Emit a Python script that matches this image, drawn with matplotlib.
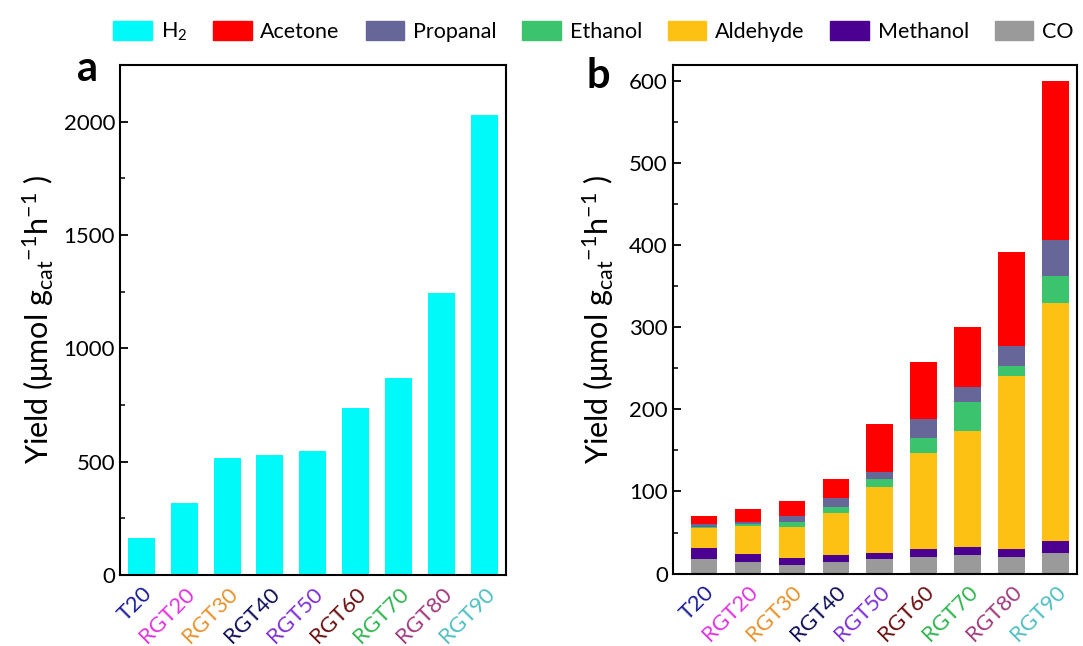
import numpy as np
import matplotlib.pyplot as plt
from matplotlib.patches import Patch
from matplotlib.ticker import MultipleLocator

plt.rcParams['font.family'] = ['Lato', 'DejaVu Sans']
plt.rcParams['mathtext.fontset'] = 'custom'
plt.rcParams['mathtext.rm'] = 'Lato'
plt.rcParams['mathtext.it'] = 'Lato'

samples = ['T20', 'RGT20', 'RGT30', 'RGT40', 'RGT50', 'RGT60', 'RGT70', 'RGT80', 'RGT90']
sample_colors = ['#1c1c99', '#e034de', '#e8922c', '#0e0e58', '#7f30d6',
                 '#6a1010', '#2fb54e', '#a03a7c', '#4fbfc2']

# H2 evolution (umol g_cat^-1 h^-1)
h2 = [165, 316, 515, 529, 547, 735, 870, 1243, 2029]

# liquid / CO products, stacked bottom to top
co = [17.7, 14.0, 10.0, 13.7, 17.3, 19.8, 22.2, 20.5, 25.4]
methanol = [13.1, 10.0, 9.3, 9.3, 8.1, 9.7, 10.5, 9.0, 13.9]
aldehyde = [24.2, 34.4, 37.7, 50.9, 79.8, 117.2, 141.3, 210.8, 290.7]
ethanol = [1.8, 2.0, 5.9, 7.7, 10.6, 18.3, 35.4, 13.1, 32.4]
propanal = [3.6, 2.5, 7.3, 10.6, 7.7, 23.0, 18.6, 23.6, 44.6]
acetone = [9.8, 16.1, 18.3, 23.6, 58.5, 70.0, 73.0, 115.5, 193.0]

c_h2 = '#00fafa'
c_acetone = '#ff0000'
c_propanal = '#666699'
c_ethanol = '#3cc36e'
c_aldehyde = '#fdc113'
c_methanol = '#4b0092'
c_co = '#9a9a9a'

fig = plt.figure(figsize=(10.83, 6.46), dpi=100)
ax1 = fig.add_axes([0.1108, 0.1099, 0.3561, 0.7895])
ax2 = fig.add_axes([0.6211, 0.1122, 0.3738, 0.7872])

x = np.arange(len(samples))

# panel a
ax1.bar(x, h2, width=0.63, color=c_h2)
ax1.set_xlim(-0.5, 8.5)
ax1.set_ylim(0, 2250)
ax1.yaxis.set_major_locator(MultipleLocator(500))
ax1.yaxis.set_minor_locator(MultipleLocator(250))

# panel b
stack = [(co, c_co), (methanol, c_methanol), (aldehyde, c_aldehyde),
         (ethanol, c_ethanol), (propanal, c_propanal), (acetone, c_acetone)]
bottom = np.zeros(len(samples))
for vals, col in stack:
    ax2.bar(x, vals, width=0.6, bottom=bottom, color=col)
    bottom += np.array(vals)
ax2.set_xlim(-0.71, 8.5)
ax2.set_ylim(0, 620)
ax2.yaxis.set_major_locator(MultipleLocator(100))
ax2.yaxis.set_minor_locator(MultipleLocator(50))

ylab = 'Yield (μmol g$_{\\mathregular{cat}}$$^{\\mathregular{-1}}$h$^{\\mathregular{-1}}$ )'
for ax in (ax1, ax2):
    for s in ax.spines.values():
        s.set_linewidth(1.5)
    ax.set_xticks(x)
    ax.set_xticklabels(samples, rotation=45, ha='right', rotation_mode='anchor', fontsize=16)
    for lbl, col in zip(ax.get_xticklabels(), sample_colors):
        lbl.set_color(col)
    ax.tick_params(axis='x', length=0, pad=6)
    ax.tick_params(axis='y', which='major', direction='in', length=6, width=1.3, labelsize=16)
    ax.tick_params(axis='y', which='minor', direction='in', length=3.5, width=1.1)
    ax.set_ylabel(ylab, fontsize=22)

ax1.yaxis.set_label_coords(-0.165, 0.5)
ax2.yaxis.set_label_coords(-0.14, 0.5)

fig.text(0.081, 0.893, 'a', fontsize=30, fontweight='bold', ha='center', va='center')
fig.text(0.552, 0.883, 'b', fontsize=30, fontweight='bold', ha='center', va='center')

handles = [Patch(color=c_h2, label='H$_2$'),
           Patch(color=c_acetone, label='Acetone'),
           Patch(color=c_propanal, label='Propanal'),
           Patch(color=c_ethanol, label='Ethanol'),
           Patch(color=c_aldehyde, label='Aldehyde'),
           Patch(color=c_methanol, label='Methanol'),
           Patch(color=c_co, label='CO')]
fig.legend(handles=handles, loc='center', bbox_to_anchor=(0.548, 0.95), ncol=7,
           frameon=False, fontsize=15.5, handlelength=1.8, handleheight=0.95,
           handletextpad=0.4, columnspacing=1.2)

fig.savefig('out.png', dpi=100)
